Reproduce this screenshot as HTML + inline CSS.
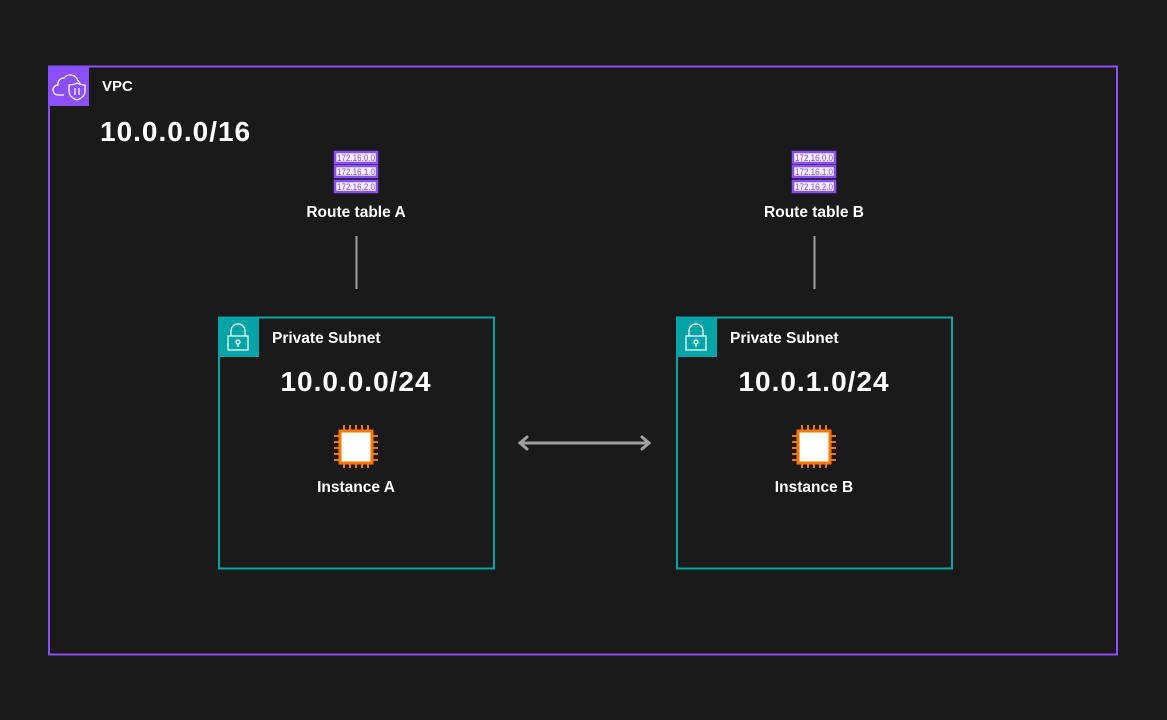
<!DOCTYPE html>
<html><head><meta charset="utf-8"><style>
html,body{margin:0;padding:0;background:#1a1a1a;width:1167px;height:720px;overflow:hidden}
svg{display:block}
text{font-family:"Liberation Sans",sans-serif;fill:#fff;font-weight:bold}
</style></head><body>
<svg width="1167" height="720" viewBox="0 0 1167 720">
<rect x="0" y="0" width="1167" height="720" fill="#1a1a1a"/>
<!-- VPC -->
<rect x="49" y="66.5" width="1068" height="588" fill="none" stroke="#8c4fff" stroke-width="2"/>
<rect x="49" y="66" width="40" height="40" fill="#8c4fff"/>
<g fill="none" stroke="#fff" stroke-width="1.2">
<path d="M64 95 H58 a5 5 0 0 1 0-10 a6 6 0 0 1 6-7 a8 8 0 0 1 14 3 a4 4 0 0 1 2 4"/>
<path d="M77 83 q-4 2 -8 2 v6 q0 6 8 9 q8-3 8-9 v-6 q-4 0 -8-2z"/>
<path d="M75 88 v7 M79 88 v7"/>
</g>
<text x="102" y="91" font-size="15">VPC</text>
<text x="100" y="141" font-size="28" letter-spacing="1">10.0.0.0/16</text>

<!-- route tables -->
<g id="rt">
<g fill="#f4efff" stroke="#8c4fff" stroke-width="2.5">
<rect x="335" y="152" width="42" height="11"/>
<rect x="335" y="166" width="42" height="11"/>
<rect x="335" y="181" width="42" height="11"/>
</g>
<g font-size="9.5" text-anchor="middle">
<text x="356" y="161" textLength="38" lengthAdjust="spacingAndGlyphs" style="fill:#8c4fff;font-weight:normal">172.16.0.0</text>
<text x="356" y="175" textLength="38" lengthAdjust="spacingAndGlyphs" style="fill:#8c4fff;font-weight:normal">172.16.1.0</text>
<text x="356" y="190" textLength="38" lengthAdjust="spacingAndGlyphs" style="fill:#8c4fff;font-weight:normal">172.16.2.0</text>
</g>
</g>
<use href="#rt" x="458"/>
<text x="356" y="217" font-size="15.5" text-anchor="middle">Route table A</text>
<text x="814" y="217" font-size="15.5" text-anchor="middle">Route table B</text>
<line x1="356.5" y1="236" x2="356.5" y2="289" stroke="#a0a0a0" stroke-width="2"/>
<line x1="814.5" y1="236" x2="814.5" y2="289" stroke="#a0a0a0" stroke-width="2"/>

<!-- subnets -->
<g id="sn">
<rect x="219" y="317.5" width="275" height="251" fill="none" stroke="#00a4a6" stroke-width="2"/>
<rect x="219" y="317" width="40" height="40" fill="#00a4a6"/>
<g fill="none" stroke="#fff" stroke-width="1.2">
<rect x="228" y="336" width="20" height="14"/>
<path d="M231 336 v-5 a7 7 0 0 1 14 0 v5"/>
<circle cx="238" cy="342" r="2"/><path d="M238 344 v3"/>
</g>
<!-- chip -->
<g stroke="#ff7700" stroke-width="2">
<path d="M344 425v6M350 425v6M356 425v6M362 425v6M368 425v6 M344 462v6M350 462v6M356 462v6M362 462v6M368 462v6 M334 436h6M334 442h6M334 448h6M334 454h6M334 460h6 M372 436h6M372 442h6M372 448h6M372 454h6M372 460h6"/>
<rect x="340" y="431" width="32" height="32" fill="#fff" stroke-width="3"/>
</g>
</g>
<use href="#sn" x="458"/>
<text x="272" y="343" font-size="15.5">Private Subnet</text>
<text x="730" y="343" font-size="15.5">Private Subnet</text>
<text x="356" y="391" font-size="28" letter-spacing="1" text-anchor="middle">10.0.0.0/24</text>
<text x="814" y="391" font-size="28" letter-spacing="1" text-anchor="middle">10.0.1.0/24</text>
<text x="356" y="492" font-size="15.5" text-anchor="middle">Instance A</text>
<text x="814" y="492" font-size="15.5" text-anchor="middle">Instance B</text>

<!-- arrow -->
<g stroke="#a0a0a0" stroke-width="3" fill="none" stroke-linecap="round">
<line x1="520" y1="443" x2="649" y2="443"/>
<path d="M527 437 L520 443 L527 449"/>
<path d="M642 437 L649 443 L642 449"/>
</g>
</svg>
</body></html>
